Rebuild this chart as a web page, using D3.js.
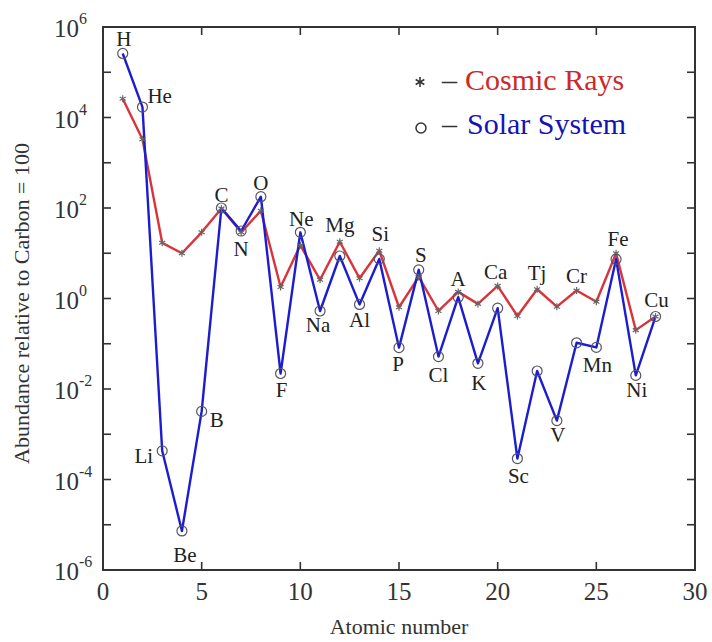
<!DOCTYPE html>
<html><head><meta charset="utf-8">
<script src="https://cdn.jsdelivr.net/npm/d3@7"></script>
<style>
body{margin:0;background:#fff;}
svg{display:block;font-family:"Liberation Serif","Times New Roman",serif;}
</style></head>
<body>
<svg id="chart" width="712" height="642"></svg>
<script>
// ---- data ----
const atomicNumbers = [1,2,3,4,5,6,7,8,9,10,11,12,13,14,15,16,17,18,19,20,21,22,23,24,25,26,27,28];
const elementLabels = ["H","He","Li","Be","B","C","N","O","F","Ne","Na","Mg","Al","Si","P","S","Cl","A","K","Ca","Sc","Tj","V","Cr","Mn","Fe","Ni","Cu"];
const cosmicRays = [2.6e4,3300,17,10,29,98,29,87,1.8,15,2.6,18,2.8,11.4,0.64,3.0,0.53,1.4,0.76,1.9,0.41,1.6,0.66,1.5,0.85,10,0.2,0.4];
const solarSystem = [2.6e5,1.7e4,4.3e-4,7.3e-6,3.2e-3,100,31,178,0.022,29,0.53,8.7,0.74,7.5,0.082,4.3,0.052,1.07,0.037,0.61,2.9e-4,0.025,2.0e-3,0.105,0.083,7.4,0.02,0.4];
const xTicks = [0,5,10,15,20,25,30];
const yTickExps = [-6,-4,-2,0,2,4,6];
const yMinorExps = [-5,-3,-1,1,3,5];
const seriesNames = ["Cosmic Rays","Solar System"];

// label placement (layout): which series to attach to, offsets, anchor
const labelLayout = {
  H:["ss",1,-7,"middle"], He:["ss",5,-4,"start"], Li:["ss",-9,12,"end"], Be:["ss",3,31,"middle"],
  B:["ss",8,16,"start"], C:["ss",0,-6,"middle"], N:["ss",0,25,"middle"], O:["ss",0,-7,"middle"],
  F:["ss",1,23,"middle"], Ne:["ss",1,-6,"middle"], Na:["ss",-2,21,"middle"], Mg:["cr",0,-10,"middle"],
  Al:["ss",0,23,"middle"], Si:["cr",1,-10,"middle"], P:["ss",-1,23,"middle"], S:["ss",2,-8,"middle"],
  Cl:["ss",0,25,"middle"], A:["cr",0,-6,"middle"], K:["ss",1,27,"middle"], Ca:["cr",-2,-7,"middle"],
  Sc:["ss",1,24,"middle"], Tj:["cr",0,-9,"middle"], V:["ss",1,21,"middle"], Cr:["cr",0,-8,"middle"],
  Mn:["ss",1,25,"middle"], Fe:["cr",2,-7,"middle"], Ni:["ss",1,22,"middle"], Cu:["ss",1,-10,"middle"]
};

// ---- layout ----
const svg = d3.select("#chart");
const L = 103, R = 695, T = 27, B = 570;
const x = d3.scaleLinear().domain([0,30]).range([L,R]);
const y = d3.scaleLog().domain([1e-6,1e6]).range([B,T]);
const frameColor = "#333";
const redC = "#d8343a", blueC = "#1c1cd0";

// frame
svg.append("rect").attr("x",L).attr("y",T).attr("width",R-L).attr("height",B-T)
  .attr("fill","none").attr("stroke",frameColor).attr("stroke-width",2);

// x ticks (bottom & top, inward)
const tickLen = 8;
const gx = svg.append("g");
xTicks.forEach(t=>{
  const px = x(t);
  if (t>0 && t<30){
    gx.append("line").attr("x1",px).attr("x2",px).attr("y1",B).attr("y2",B-tickLen).attr("stroke",frameColor).attr("stroke-width",1.6);
    gx.append("line").attr("x1",px).attr("x2",px).attr("y1",T).attr("y2",T+tickLen).attr("stroke",frameColor).attr("stroke-width",1.6);
  }
  gx.append("text").attr("x",px).attr("y",600).attr("text-anchor","middle")
    .attr("font-size",25).attr("fill","#333").text(t);
});

// y ticks
const gy = svg.append("g");
yTickExps.concat(yMinorExps).forEach(e=>{
  const py = y(Math.pow(10,e));
  if (e>-6 && e<6){
    gy.append("line").attr("x1",L).attr("x2",L+tickLen).attr("y1",py).attr("y2",py).attr("stroke",frameColor).attr("stroke-width",1.6);
    gy.append("line").attr("x1",R).attr("x2",R-tickLen).attr("y1",py).attr("y2",py).attr("stroke",frameColor).attr("stroke-width",1.6);
  }
});
yTickExps.forEach(e=>{
  const py = y(Math.pow(10,e));
  const t = gy.append("text").attr("x",54).attr("y",py+10).attr("font-size",25).attr("fill","#333");
  t.append("tspan").text("10");
  t.append("tspan").attr("dy",-13).attr("font-size",16).text(e<0 ? "-"+Math.abs(e) : String(e));
});

// axis titles
svg.append("text").attr("x",(L+R)/2).attr("y",634).attr("text-anchor","middle")
  .attr("font-size",22).attr("fill","#333").text("Atomic number");
svg.append("text").attr("transform",`translate(29,${(T+B)/2+5}) rotate(-90)`)
  .attr("text-anchor","middle").attr("font-size",22).attr("fill","#333")
  .text("Abundance relative to Carbon = 100");

// lines
const line = d3.line().x(d=>x(d[0])).y(d=>y(d[1]));
const crPts = atomicNumbers.map((z,i)=>[z,cosmicRays[i]]);
const ssPts = atomicNumbers.map((z,i)=>[z,solarSystem[i]]);
svg.append("path").attr("d",line(crPts)).attr("fill","none").attr("stroke",redC).attr("stroke-width",2.4).attr("stroke-linejoin","round");
svg.append("path").attr("d",line(ssPts)).attr("fill","none").attr("stroke",blueC).attr("stroke-width",2.4).attr("stroke-linejoin","round");

// markers
function asterisk(g,cx,cy,s,col,w){
  for (let k=0;k<3;k++){
    const a = Math.PI/2 + k*Math.PI/3;
    g.append("line").attr("x1",cx-s*Math.cos(a)).attr("y1",cy-s*Math.sin(a))
      .attr("x2",cx+s*Math.cos(a)).attr("y2",cy+s*Math.sin(a)).attr("stroke",col).attr("stroke-width",w);
  }
}
const gm = svg.append("g");
crPts.forEach(d=>asterisk(gm,x(d[0]),y(d[1]),3.5,"#666",1.2));
gm.selectAll("circle.ss").data(ssPts).join("circle").attr("class","ss")
  .attr("cx",d=>x(d[0])).attr("cy",d=>y(d[1])).attr("r",5)
  .attr("fill","none").attr("stroke","#556").attr("stroke-width",1.2);

// element labels
const gl = svg.append("g");
elementLabels.forEach((lab,i)=>{
  const [ser,dx,dy,anc] = labelLayout[lab];
  const v = ser==="cr" ? cosmicRays[i] : solarSystem[i];
  gl.append("text").attr("x",x(atomicNumbers[i])+dx).attr("y",y(v)+dy)
    .attr("text-anchor",anc).attr("font-size",21).attr("fill","#222").text(lab);
});

// legend
const lg = svg.append("g");
asterisk(lg,420,82,5,"#333",1.6);
lg.append("text").attr("x",442).attr("y",90).attr("font-size",30).attr("fill","#333").text("–");
lg.append("text").attr("x",465).attr("y",90).attr("font-size",30).attr("fill","#cc2a2a").text(seriesNames[0]);
lg.append("circle").attr("cx",421).attr("cy",128).attr("r",5).attr("fill","none").attr("stroke","#333").attr("stroke-width",1.5);
lg.append("text").attr("x",442).attr("y",134).attr("font-size",30).attr("fill","#333").text("–");
lg.append("text").attr("x",467).attr("y",134).attr("font-size",30).attr("fill","#1414b4").text(seriesNames[1]);
</script>
</body></html>
